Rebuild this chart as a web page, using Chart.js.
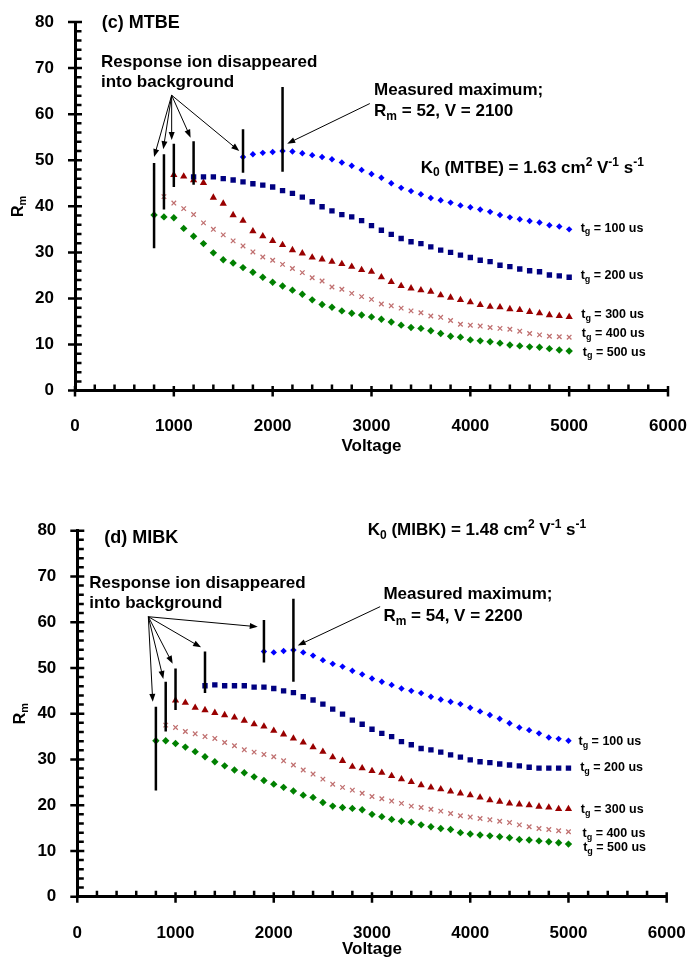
<!DOCTYPE html>
<html>
<head>
<meta charset="utf-8">
<script src="https://cdn.jsdelivr.net/npm/chart.js@4.4.0/dist/chart.umd.min.js"></script>
<style>
  html, body { margin: 0; padding: 0; background: #fff; }
  #wrap { position: relative; width: 690px; height: 958px; overflow: hidden; }
  canvas { position: absolute; left: 0; }
  #cTop { top: 0; }
  #cBot { top: 470px; }
</style>
</head>
<body>
<div id="wrap">
  <canvas id="cTop" width="690" height="470"></canvas>
  <canvas id="cBot" width="690" height="488"></canvas>
</div>
<script>
// =============================
// DATA
// =============================
const VOLTAGE = [800, 900, 1000, 1100, 1200, 1300, 1400, 1500, 1600, 1700, 1800, 1900,
  2000, 2100, 2200, 2300, 2400, 2500, 2600, 2700, 2800, 2900, 3000, 3100, 3200, 3300,
  3400, 3500, 3600, 3700, 3800, 3900, 4000, 4100, 4200, 4300, 4400, 4500, 4600, 4700,
  4800, 4900, 5000];

const X_TICKS = [0, 1000, 2000, 3000, 4000, 5000, 6000];
const Y_TICKS = [0, 10, 20, 30, 40, 50, 60, 70, 80];

const SERIES_LABELS = ["t_{g} = 100 us", "t_{g} = 200 us", "t_{g} = 300 us", "t_{g} = 400 us", "t_{g} = 500 us"];

// (c) MTBE
const MTBE_100 = [null, null, null, null, null, null, null, null, null,
  50.7, 51.3, 51.6, 51.8, 52.0, 51.9, 51.5, 51.1, 50.7, 50.2, 49.5,
  48.8, 47.9, 47.0, 46.2, 45.0, 44.0, 43.3, 42.6, 41.8, 41.3, 40.8, 40.2, 39.8, 39.3,
  38.8, 38.1, 37.6, 37.2, 36.8, 36.5, 35.9, 35.6, 35.0];
const MTBE_200 = [null, null, null, null,
  46.4, 46.4, 46.4, 46.0, 45.7, 45.3, 44.9, 44.6, 44.2, 43.4, 42.8, 42.0, 41.0, 39.9, 39.0, 38.2,
  37.7, 36.9, 35.8, 34.8, 33.9, 33.0, 32.3, 31.9, 31.2, 30.5, 30.0, 29.4, 28.9, 28.3,
  28.0, 27.2, 26.9, 26.4, 26.0, 25.8, 25.1, 24.9, 24.6];
const MTBE_300 = [null, null,
  46.8, 46.5, 45.7, 45.1, 41.9, 40.6, 38.1, 36.9, 34.6, 33.5, 32.5, 31.6, 30.5, 29.8, 28.9, 28.5, 28.0, 27.5,
  26.9, 26.2, 25.8, 24.6, 23.6, 22.7, 22.2, 21.8, 21.5, 20.7, 20.2, 19.7, 19.2, 18.6,
  18.2, 18.1, 17.7, 17.5, 17.1, 16.8, 16.4, 16.2, 16.0];
const MTBE_400 = [null,
  42.1, 40.7, 39.5, 38.2, 36.4, 35.0, 33.8, 32.5, 31.4, 30.1, 29.0, 28.3, 27.4, 26.5, 25.6, 24.5, 23.8, 22.5, 22.0,
  21.1, 20.4, 19.8, 18.8, 18.4, 17.9, 17.3, 16.9, 16.2, 15.9, 15.2, 14.4, 14.2, 14.0,
  13.7, 13.5, 13.3, 12.9, 12.4, 12.1, 11.8, 11.7, 11.6];
const MTBE_500 = [38.1, 37.7, 37.5, 35.2, 33.5, 31.9, 29.9, 28.4, 27.7, 26.7, 25.7, 24.6,
  23.5, 22.7, 21.8, 20.9, 19.7, 18.7, 18.1, 17.3,
  16.8, 16.4, 16.0, 15.5, 14.9, 14.2, 13.7, 13.5, 13.0, 12.4, 11.8, 11.6, 11.0, 10.8,
  10.6, 10.3, 9.9, 9.7, 9.5, 9.4, 9.1, 8.8, 8.6];

// (d) MIBK
const MIBK_100 = [null, null, null, null, null, null, null, null, null, null, null,
  53.6, 53.4, 53.7, 53.9, 53.4, 52.7, 51.7, 50.9, 50.3,
  49.4, 48.6, 47.7, 47.0, 46.3, 45.5, 45.0, 44.5, 43.7, 43.1, 42.6, 42.1, 41.3, 40.5,
  39.7, 38.9, 37.9, 37.0, 36.4, 35.7, 34.8, 34.5, 34.1];
const MIBK_200 = [null, null, null, null, null,
  46.1, 46.3, 46.1, 46.1, 46.1, 45.8, 45.8, 45.5, 45.0, 44.6, 43.7, 43.0, 42.1, 41.0, 39.9,
  38.6, 37.7, 36.6, 35.7, 35.0, 33.9, 33.2, 32.4, 32.1, 31.6, 31.0, 30.5, 29.9, 29.5,
  29.3, 29.0, 28.8, 28.6, 28.3, 28.1, 28.1, 28.1, 28.1];
const MIBK_300 = [null, null,
  42.9, 42.4, 41.3, 40.8, 40.2, 39.7, 39.2, 38.5, 37.7, 37.2, 36.3, 35.5, 34.6, 33.7, 32.7, 31.7, 30.5, 29.7,
  28.4, 28.1, 27.5, 27.1, 26.4, 25.7, 25.1, 24.4, 23.9, 23.5, 23.0, 22.6, 22.2, 21.7,
  21.1, 20.8, 20.4, 20.2, 20.0, 19.7, 19.5, 19.2, 19.2];
const MIBK_400 = [null,
  37.5, 37.0, 36.1, 35.6, 35.0, 34.6, 33.7, 33.0, 32.1, 31.6, 31.1, 30.6, 29.7, 28.8, 27.7, 26.8, 25.7, 24.6, 23.9,
  23.3, 22.6, 21.9, 21.4, 20.9, 20.4, 19.8, 19.5, 19.1, 18.7, 18.2, 17.7, 17.4, 17.1,
  16.8, 16.5, 16.2, 15.7, 15.3, 14.9, 14.7, 14.4, 14.2];
const MIBK_500 = [34.1, 34.1, 33.5, 32.7, 31.7, 30.6, 29.5, 28.6, 27.7, 27.1, 26.2, 25.4,
  24.6, 23.9, 23.1, 22.2, 21.7, 20.6, 19.8, 19.5,
  19.3, 19.0, 18.0, 17.5, 16.9, 16.5, 16.3, 15.7, 15.3, 14.9, 14.7, 14.0, 13.7, 13.5,
  13.3, 13.1, 12.9, 12.5, 12.4, 12.2, 12.0, 11.8, 11.5];

// vertical markers: [voltage, low, high]
const MTBE_BARS = [[800, 30.9, 49.4], [900, 39.3, 51.3], [1000, 44.2, 53.6], [1200, 44.7, 54.1], [1700, 47.3, 56.7], [2100, 47.5, 65.9]];
const MIBK_BARS = [[800, 23.2, 41.5], [900, 36.1, 47.0], [1000, 40.8, 49.9], [1300, 44.5, 53.6], [1900, 51.2, 60.5], [2200, 47.0, 65.1]];

// =============================
// STYLE
// =============================
const FAM = 'Arial, "Liberation Sans", Helvetica, sans-serif';
const STYLES = [
  { color: "#0000ff", style: "rectRot", r: 3.2 },
  { color: "#000080", style: "rect", r: 3.8 },
  { color: "#990000", style: "triangle", r: 4.2 },
  { color: "#c07070", style: "crossRot", r: 3.2, line: 1.3 },
  { color: "#008000", style: "rectRot", r: 3.7 }
];

// =============================
// UTIL
// =============================
// "K_{0} cm^{2}" -> [[text, mode], ...]
function parseRich(str) {
  const parts = [];
  const re = /([_^])\{([^}]*)\}/g;
  let last = 0, m;
  while ((m = re.exec(str))) {
    if (m.index > last) parts.push([str.slice(last, m.index), "n"]);
    parts.push([m[2], m[1] === "_" ? "sub" : "sup"]);
    last = re.lastIndex;
  }
  if (last < str.length) parts.push([str.slice(last), "n"]);
  return parts;
}

function drawRich(ctx, str, x, y, size, align) {
  const parts = parseRich(str);
  const fontFor = (m) => `bold ${m === "n" ? size : Math.round(size * 0.7)}px ${FAM}`;
  let w = 0;
  parts.forEach(([t, m]) => { ctx.font = fontFor(m); w += ctx.measureText(t).width; });
  let cx = align === "center" ? x - w / 2 : x;
  ctx.textAlign = "left";
  ctx.textBaseline = "alphabetic";
  parts.forEach(([t, m]) => {
    ctx.font = fontFor(m);
    const dy = m === "sub" ? size * 0.22 : m === "sup" ? -size * 0.4 : 0;
    ctx.fillText(t, cx, y + dy);
    cx += ctx.measureText(t).width;
  });
}

function arrow(ctx, x1, y1, x2, y2) {
  const a = Math.atan2(y2 - y1, x2 - x1);
  const len = 8, hw = 3;
  ctx.lineWidth = 1;
  ctx.beginPath();
  ctx.moveTo(x1, y1);
  ctx.lineTo(x2 - Math.cos(a) * len * 0.8, y2 - Math.sin(a) * len * 0.8);
  ctx.stroke();
  ctx.beginPath();
  ctx.moveTo(x2, y2);
  ctx.lineTo(x2 - Math.cos(a) * len - Math.sin(a) * hw, y2 - Math.sin(a) * len + Math.cos(a) * hw);
  ctx.lineTo(x2 - Math.cos(a) * len + Math.sin(a) * hw, y2 - Math.sin(a) * len - Math.cos(a) * hw);
  ctx.closePath();
  ctx.fill();
}

// =============================
// PLUGIN: ticks, notes, arrows
// =============================
function notesPlugin(o) {
  return {
    id: "notes",
    afterDraw(chart) {
      const { ctx, chartArea: ca, scales: { x, y } } = chart;
      const px = (v) => x.getPixelForValue(v);
      const py = (v) => y.getPixelForValue(v);
      ctx.save();
      ctx.strokeStyle = "#000";
      ctx.fillStyle = "#000";

      // axis ticks (major + minor)
      ctx.lineWidth = 2.5;
      ctx.beginPath();
      for (let v = 0; v <= 80; v += 2) {
        const yy = py(v);
        if (v % 10 === 0) { ctx.moveTo(ca.left - 7, yy); ctx.lineTo(ca.left + 7, yy); }
        else { ctx.moveTo(ca.left, yy); ctx.lineTo(ca.left + 6.5, yy); }
      }
      for (let v = 0; v <= 6000; v += 200) {
        const xx = px(v);
        if (v % 1000 === 0) { ctx.moveTo(xx, ca.bottom - 4.5); ctx.lineTo(xx, ca.bottom + 6); }
        else { ctx.moveTo(xx, ca.bottom - 6); ctx.lineTo(xx, ca.bottom); }
      }
      ctx.stroke();

      // vertical markers
      ctx.lineWidth = 2.5;
      ctx.beginPath();
      o.bars.forEach(([v, lo, hi]) => { ctx.moveTo(px(v), py(lo)); ctx.lineTo(px(v), py(hi)); });
      ctx.stroke();

      // arrows
      o.arrowHeads.forEach(([v, r]) => arrow(ctx, px(o.arrowFrom[0]), py(o.arrowFrom[1]), px(v), py(r)));
      arrow(ctx, px(o.maxArrow[0][0]), py(o.maxArrow[0][1]), px(o.maxArrow[1][0]), py(o.maxArrow[1][1]));

      // texts
      o.texts.forEach((t) => drawRich(ctx, t.s, px(t.x), py(t.y), t.size, "left"));
      SERIES_LABELS.forEach((s, i) => drawRich(ctx, s, px(o.seriesLabelPos[i][0]), py(o.seriesLabelPos[i][1]), 12.5, "left"));

      // axis titles
      drawRich(ctx, "Voltage", (ca.left + ca.right) / 2, ca.bottom + o.titleGap, 17, "center");
      ctx.save();
      ctx.translate(ca.left - 58, (ca.top + ca.bottom) / 2);
      ctx.rotate(-Math.PI / 2);
      drawRich(ctx, "R_{m}", 0, 5.5, 16, "center");
      ctx.restore();

      ctx.restore();
    }
  };
}

// =============================
// CHART
// =============================
function buildChart(id, o) {
  const datasets = o.series.map((vals, i) => ({
    label: SERIES_LABELS[i],
    data: VOLTAGE.map((v, k) => ({ x: v, y: vals[k] })).filter((p) => p.y !== null),
    showLine: false,
    pointStyle: STYLES[i].style,
    pointRadius: STYLES[i].r,
    backgroundColor: STYLES[i].color,
    borderColor: STYLES[i].color,
    borderWidth: STYLES[i].line || 0
  }));

  const tickFont = { family: FAM, size: 17, weight: "bold" };

  return new Chart(document.getElementById(id), {
    type: "scatter",
    data: { datasets },
    options: {
      responsive: false,
      animation: false,
      events: [],
      layout: { padding: o.pad },
      plugins: { legend: { display: false }, tooltip: { enabled: false } },
      scales: {
        x: {
          type: "linear",
          min: X_TICKS[0],
          max: X_TICKS[X_TICKS.length - 1],
          afterBuildTicks: (s) => { s.ticks = X_TICKS.map((v) => ({ value: v })); },
          // fixed axis box, no extra edge padding for the end labels
          afterFit: (s) => { s.height = o.xHeight; s.paddingLeft = 0; s.paddingRight = 0; },
          grid: { display: false },
          border: { display: true, color: "#000", width: 3 },
          ticks: { color: "#000", font: tickFont, padding: 18, maxRotation: 0, autoSkip: false,
                   callback: (v) => String(v) }
        },
        y: {
          type: "linear",
          min: Y_TICKS[0],
          max: Y_TICKS[Y_TICKS.length - 1],
          afterBuildTicks: (s) => { s.ticks = Y_TICKS.map((v) => ({ value: v })); },
          afterFit: (s) => { s.width = o.yWidth; s.paddingTop = 0; s.paddingBottom = 0; },
          grid: { display: false },
          border: { display: true, color: "#000", width: 3 },
          ticks: { color: "#000", font: tickFont, padding: 13, autoSkip: false,
                   callback: (v) => String(v) }
        }
      }
    },
    plugins: [notesPlugin(o)]
  });
}

buildChart("cTop", {
  series: [MTBE_100, MTBE_200, MTBE_300, MTBE_400, MTBE_500],
  pad: { left: 0, right: 22, top: 22, bottom: 0 },
  yWidth: 75,
  xHeight: 79.4,
  titleGap: 60,
  bars: MTBE_BARS,
  arrowFrom: [978, 64.1],
  arrowHeads: [[800, 50.7], [893, 52.4], [978, 54.4], [1170, 54.9], [1662, 52.0]],
  maxArrow: [[2983, 62.3], [2147, 53.6]],
  texts: [
    { s: "(c) MTBE", x: 270, y: 78.6, size: 18 },
    { s: "Response ion disappeared", x: 263, y: 70.3, size: 17 },
    { s: "into background", x: 263, y: 65.8, size: 17 },
    { s: "Measured maximum;", x: 3026, y: 64.1, size: 17 },
    { s: "R_{m} = 52, V = 2100", x: 3026, y: 59.6, size: 17 },
    { s: "K_{0} (MTBE) = 1.63 cm^{2} V^{-1} s^{-1}", x: 3498, y: 47.3, size: 17 }
  ],
  seriesLabelPos: [[5116, 34.5], [5116, 24.2], [5122, 15.7], [5128, 11.6], [5138, 7.6]]
});

buildChart("cBot", {
  series: [MIBK_100, MIBK_200, MIBK_300, MIBK_400, MIBK_500],
  pad: { left: 0, right: 23.3, top: 60.7, bottom: 0 },
  yWidth: 77.3,
  xHeight: 61.3,
  titleGap: 57.5,
  bars: MIBK_BARS,
  arrowFrom: [723, 61.2],
  arrowHeads: [[768, 42.6], [876, 47.6], [971, 50.9], [1260, 54.5], [1837, 59.0]],
  maxArrow: [[3083, 63.4], [2244, 54.9]],
  texts: [
    { s: "(d) MIBK", x: 275, y: 77.4, size: 18 },
    { s: "Response ion disappeared", x: 122, y: 67.4, size: 17 },
    { s: "into background", x: 122, y: 63.0, size: 17 },
    { s: "Measured maximum;", x: 3116, y: 65.1, size: 17 },
    { s: "R_{m} = 54, V = 2200", x: 3116, y: 60.3, size: 17 },
    { s: "K_{0} (MIBK) = 1.48 cm^{2} V^{-1} s^{-1}", x: 2957, y: 79.1, size: 17 }
  ],
  seriesLabelPos: [[5102, 33.2], [5119, 27.5], [5126, 18.2], [5143, 13.1], [5150, 10.0]]
});
</script>
</body>
</html>
